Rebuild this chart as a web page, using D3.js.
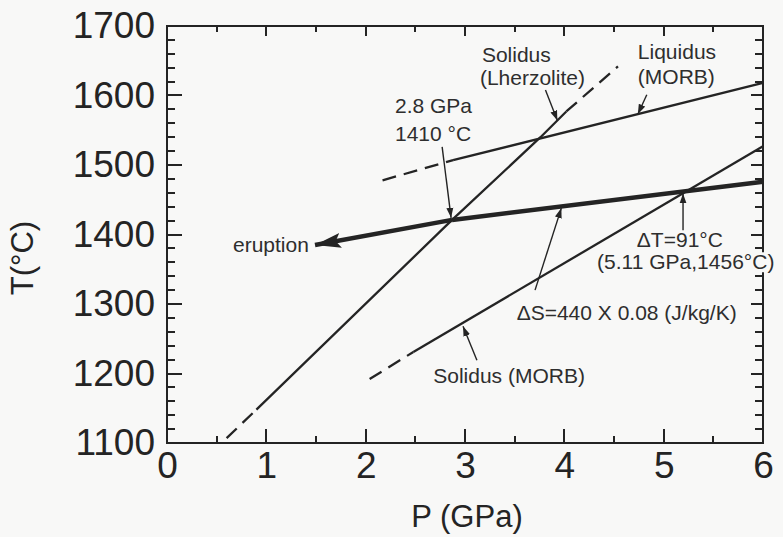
<!DOCTYPE html>
<html>
<head>
<meta charset="utf-8">
<script src="https://cdn.jsdelivr.net/npm/d3@7"></script>
<style>
  html, body { margin: 0; padding: 0; background: #f8f8f7; }
  svg { display: block; font-family: "Liberation Sans", Arial, Helvetica, sans-serif; }
</style>
</head>
<body>
<div id="chart"></div>
<script>
// ---- data (P in GPa, T in °C) ----
var pTicks = [0, 1, 2, 3, 4, 5, 6];
var tTicks = [1100, 1200, 1300, 1400, 1500, 1600, 1700];

// solidus of lherzolite
var lherzDashLow  = [[0.6, 1107], [0.9, 1148]];
var lherzSolid    = [[0.9, 1148], [2.87, 1421], [3.76, 1540], [4.02, 1577]];
var lherzDashHigh = [[4.02, 1577], [4.54, 1642]];

// liquidus of MORB
var liqDash  = [[2.17, 1478], [2.88, 1507]];
var liqSolid = [[2.88, 1507], [6.0, 1618]];

// solidus of MORB
var morbDash  = [[2.04, 1192], [2.48, 1231]];
var morbSolid = [[2.48, 1231], [6.0, 1527]];

// thick path and eruption arrow
var adiabat  = [[2.87, 1421], [6.0, 1476]];
var eruption = [[2.87, 1421], [1.49, 1385]];

// labels: text, P, T (start of text baseline)
var labels = [
  ["Solidus", 3.17, 1648],
  ["(Lherzolite)", 3.15, 1615],
  ["Liquidus", 4.74, 1652],
  ["(MORB)", 4.74, 1616],
  ["2.8 GPa", 2.295, 1575],
  ["1410 °C", 2.295, 1534],
  ["eruption", 0.664, 1375],
  ["\u0394T=91°C", 4.73, 1382],
  ["\u0394S=440 X 0.08 (J/kg/K)", 3.52, 1277],
  ["Solidus (MORB)", 2.68, 1186]
];
var boxedLabel = ["(5.11 GPa,1456°C)", 4.33, 1350];

// pointer arrows: from [P,T] to [P,T]
var pointers = [
  [[3.81, 1608], [3.93, 1564]],
  [[4.83, 1601], [4.74, 1573]],
  [[2.77, 1526], [2.86, 1424]],
  [[5.195, 1406], [5.195, 1459]],
  [[3.705, 1320], [3.97, 1438]],
  [[3.12, 1219], [2.98, 1268]]
];

// ---- layout ----
var W = 783, H = 537;
var m = { left: 167, right: 763, top: 26, bottom: 443 };
var ink = "#242424";

var x = d3.scaleLinear().domain([0, 6]).range([m.left, m.right]);
var y = d3.scaleLinear().domain([1100, 1700]).range([m.bottom, m.top]);

var svg = d3.select("#chart").append("svg")
    .attr("width", W)
    .attr("height", H);

svg.append("rect").attr("width", W).attr("height", H).attr("fill", "#f8f8f7");

var defs = svg.append("defs");
defs.append("marker")
    .attr("id", "small")
    .attr("markerUnits", "userSpaceOnUse")
    .attr("viewBox", "0 -4 10 8")
    .attr("refX", 10).attr("refY", 0)
    .attr("markerWidth", 10).attr("markerHeight", 8)
    .attr("orient", "auto")
    .append("path").attr("d", "M0,-3.5L10,0L0,3.5Z").attr("fill", ink);
defs.append("marker")
    .attr("id", "big")
    .attr("markerUnits", "userSpaceOnUse")
    .attr("viewBox", "0 -8 26 16")
    .attr("refX", 26).attr("refY", 0)
    .attr("markerWidth", 26).attr("markerHeight", 16)
    .attr("orient", "auto")
    .append("path").attr("d", "M0,-7.5L26,0L0,7.5L5,0Z").attr("fill", ink);

// ---- axes ----
var fmt = d3.format("d");
var tMinor = d3.range(1100, 1701, 20);
var pMinor = d3.range(0, 6.01, 0.5);

function isMajorT(v) { return v % 100 === 0; }
function isMajorP(v) { return v % 1 === 0; }
// snap to the pixel grid so the thin ticks stay crisp
function ys(v) { return Math.round(y(v)); }
function xs(v) { return Math.round(x(v)); }

// inward ticks drawn by hand on all four sides
var tickG = svg.append("g").attr("stroke", ink).attr("stroke-width", 2);

tickG.selectAll("line.tl").data(tMinor).enter().append("line")
    .attr("x1", m.left).attr("x2", function (d) { return m.left + (isMajorT(d) ? 15 : 8); })
    .attr("y1", ys).attr("y2", ys);
tickG.selectAll("line.tr").data(tMinor).enter().append("line")
    .attr("x1", m.right).attr("x2", function (d) { return m.right - (isMajorT(d) ? 12 : 8); })
    .attr("y1", ys).attr("y2", ys);
tickG.selectAll("line.pb").data(pMinor).enter().append("line")
    .attr("y1", m.bottom).attr("y2", function (d) { return m.bottom - (isMajorP(d) ? 14 : 7); })
    .attr("x1", xs).attr("x2", xs);
tickG.selectAll("line.pt").data(pMinor).enter().append("line")
    .attr("y1", m.top).attr("y2", function (d) { return m.top + (isMajorP(d) ? 10 : 6); })
    .attr("x1", xs).attr("x2", xs);

// tick labels via d3 axes (their own tick marks hidden)
svg.append("g")
    .attr("class", "ylab")
    .attr("transform", "translate(" + m.left + ",0)")
    .call(d3.axisLeft(y).tickValues(tTicks).tickSize(0).tickPadding(12).tickFormat(fmt));
svg.append("g")
    .attr("class", "xlab")
    .attr("transform", "translate(0," + m.bottom + ")")
    .call(d3.axisBottom(x).tickValues(pTicks).tickSize(0).tickPadding(9).tickFormat(fmt));

svg.selectAll(".domain").remove();
svg.selectAll(".ylab .tick line, .xlab .tick line").remove();
svg.selectAll(".ylab text, .xlab text")
    .attr("fill", ink)
    .style("font-size", "37px");

svg.append("rect")
    .attr("x", m.left).attr("y", m.top)
    .attr("width", m.right - m.left).attr("height", m.bottom - m.top)
    .attr("fill", "none").attr("stroke", ink).attr("stroke-width", 2);

// axis titles
svg.append("text")
    .attr("x", (m.left + m.right) / 2 + 2).attr("y", 527)
    .attr("text-anchor", "middle")
    .attr("fill", ink)
    .style("font-size", "31px")
    .text("P (GPa)");
svg.append("text")
    .attr("transform", "translate(33,258) rotate(-90)")
    .attr("text-anchor", "middle")
    .attr("fill", ink)
    .style("font-size", "31px")
    .text("T(°C)");

// ---- curves ----
var line = d3.line().x(function (d) { return x(d[0]); }).y(function (d) { return y(d[1]); });

function curve(data, width, dash) {
    svg.append("path")
        .datum(data)
        .attr("d", line)
        .attr("fill", "none")
        .attr("stroke", ink)
        .attr("stroke-width", width)
        .attr("stroke-dasharray", dash || null);
}

curve(lherzDashLow, 2.3, "14,8");
curve(lherzSolid, 2.3);
curve(lherzDashHigh, 2.3, "14,8");
curve(liqDash, 2.3, "14,8");
curve(liqSolid, 2.3);
curve(morbDash, 2.3, "14,8");
curve(morbSolid, 2.3);
curve(adiabat, 4.5);

svg.append("path")
    .datum(eruption)
    .attr("d", line)
    .attr("fill", "none")
    .attr("stroke", ink)
    .attr("stroke-width", 4.5)
    .attr("marker-end", "url(#big)");

// ---- pointers ----
svg.selectAll("line.ptr")
    .data(pointers)
    .enter().append("line")
    .attr("class", "ptr")
    .attr("x1", function (d) { return x(d[0][0]); })
    .attr("y1", function (d) { return y(d[0][1]); })
    .attr("x2", function (d) { return x(d[1][0]); })
    .attr("y2", function (d) { return y(d[1][1]); })
    .attr("stroke", ink)
    .attr("stroke-width", 1.4)
    .attr("marker-end", "url(#small)");

// ---- labels ----
svg.selectAll("text.lbl")
    .data(labels)
    .enter().append("text")
    .attr("class", "lbl")
    .attr("x", function (d) { return x(d[1]); })
    .attr("y", function (d) { return y(d[2]); })
    .attr("fill", "#2e2e2e")
    .style("font-size", "21px")
    .text(function (d) { return d[0]; });

// this one sits over the right frame, so it gets a backing box
var boxG = svg.append("g");
var boxT = boxG.append("text")
    .attr("x", x(boxedLabel[1]))
    .attr("y", y(boxedLabel[2]))
    .attr("fill", "#2e2e2e")
    .style("font-size", "21px")
    .text(boxedLabel[0]);
var bb = boxT.node().getBBox();
boxG.insert("rect", "text")
    .attr("x", bb.x - 1).attr("y", bb.y + 2)
    .attr("width", bb.width + 3).attr("height", bb.height - 3)
    .attr("fill", "#f8f8f7");
</script>
</body>
</html>
